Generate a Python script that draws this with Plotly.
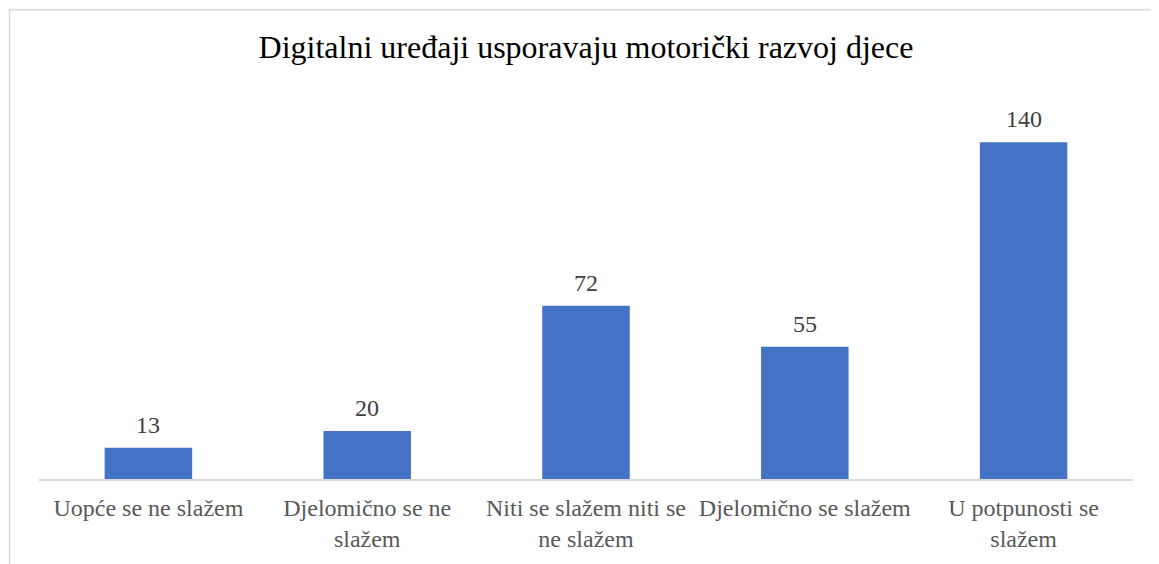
import plotly.graph_objects as go

categories = ["Uopće se ne slažem", "Djelomično se ne<br>slažem", "Niti se slažem niti se<br>ne slažem",
              "Djelomično se slažem", "U potpunosti se<br>slažem"]
values = [13, 20, 72, 55, 140]
title = "Digitalni uređaji usporavaju motorički razvoj djece"

SERIF = "'Liberation Serif', 'Times New Roman', Times, serif"
OFF = 8  # page body margin
W, H = 1159 - OFF, 564 - OFF
L, T = 38.5 - OFF, 94 - OFF
pw, ph = 1095, 389
R = W - L - pw
B = H - T - ph

fig = go.Figure()
fig.add_trace(go.Bar(x=categories, y=values, marker=dict(color="#4472C4", line=dict(width=0)),
                     width=0.4, hoverinfo="skip"))
for c, v in zip(categories, values):
    fig.add_annotation(x=c, y=v, text=str(v), showarrow=False, yanchor="bottom", yshift=8,
                       font=dict(family=SERIF, size=24, color="#404040"))

fig.add_shape(type="rect", xref="paper", yref="paper",
              x0=(1 - L) / pw, x1=1.1, y0=-0.4, y1=(ph + T - 1) / ph,
              line=dict(color="#D9D9D9", width=1.5), fillcolor="rgba(0,0,0,0)", layer="below")

fig.update_layout(
    width=W, height=H,
    margin=dict(l=L, r=R, t=T, b=B),
    paper_bgcolor="white", plot_bgcolor="white",
    showlegend=False,
    title=dict(text=title, x=(L + pw / 2) / W, xanchor="center", y=1 - (47 - OFF) / H, yanchor="middle",
               font=dict(family=SERIF, size=32, color="#000000")),
    xaxis=dict(showline=True, linecolor="#D9D9D9", linewidth=1.5, ticks="", showgrid=False,
               ticklabelstandoff=6,
               tickfont=dict(family=SERIF, size=24, color="#595959")),
    yaxis=dict(range=[0, 160], visible=False, showgrid=False, zeroline=False),
)
fig.write_html("out.html")
